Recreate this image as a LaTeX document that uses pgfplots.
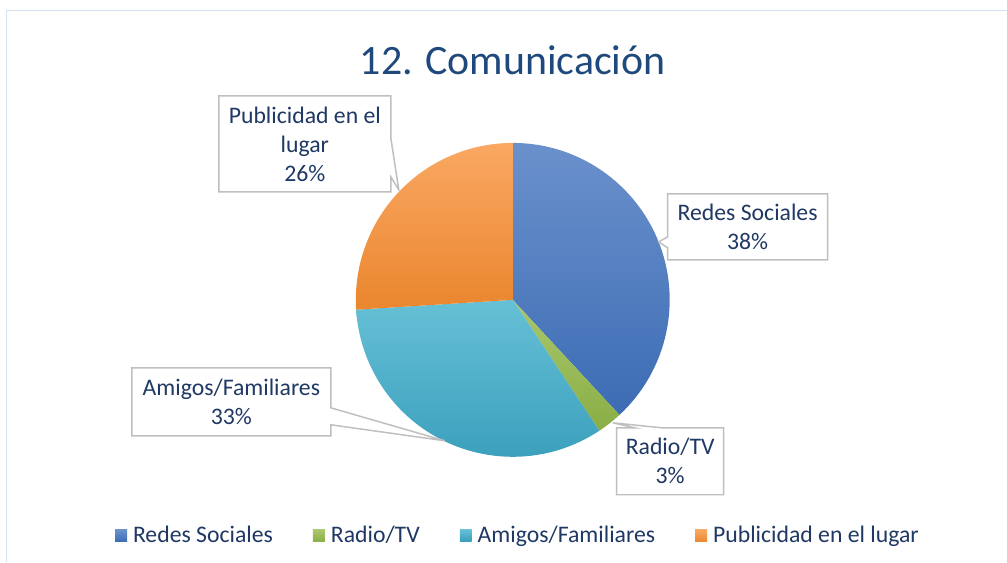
\documentclass[border=0pt]{standalone}
\usepackage{pgfplots}
\pgfplotsset{compat=1.18}
\usepackage{fontspec}
\setmainfont{Carlito}
\definecolor{titlecol}{HTML}{1F497D}
\definecolor{txtcol}{HTML}{1F3864}
\definecolor{framecol}{HTML}{D5E0F0}
\definecolor{boxcol}{HTML}{BFBFBF}
\definecolor{blueT}{HTML}{6B91CC}\definecolor{blueB}{HTML}{3C6CB4}
\definecolor{greenT}{HTML}{A9C76C}\definecolor{greenB}{HTML}{8AAE45}
\definecolor{tealT}{HTML}{66C0D6}\definecolor{tealB}{HTML}{369CBA}
\definecolor{orT}{HTML}{FAA863}\definecolor{orB}{HTML}{EA862E}
\begin{document}
\begin{tikzpicture}
% data (percent)
\def\vRedes{38.1}\def\vRadio{2.6}\def\vAmigos{33.3}\def\vPubli{26.0}
\pgfmathsetmacro\aZero{90}
\pgfmathsetmacro\aOne{\aZero-3.6*\vRedes}
\pgfmathsetmacro\aTwo{\aOne-3.6*\vRadio}
\pgfmathsetmacro\aThree{\aTwo-3.6*\vAmigos}
\pgfmathsetmacro\aFour{\aThree-3.6*\vPubli}
\def\R{117.75pt}
\begin{axis}[
  x=0.75pt, y=0.75pt,
  xmin=0, xmax=1007, ymin=0, ymax=562,
  hide axis, clip=false,
  legend style={at={(axis cs:518.5,26)}, anchor=center, draw=none, fill=none,
    font=\fontsize{17.8}{20}\selectfont, text=txtcol,
    nodes={inner sep=2pt},
    /tikz/every odd column/.append style={column sep=2.5pt},
    /tikz/every even column/.append style={column sep=28pt}},
  legend columns=4,
  legend image code/.code={\path[#1] (0pt,-4.5pt) rectangle (9pt,4.5pt);},
]
\path[fill=white] (axis cs:0,0) rectangle (axis cs:1007,562);
\draw[framecol, line width=0.75pt] (axis cs:7,0) -- (axis cs:7,551) -- (axis cs:1007,551);
\addlegendimage{top color=blueT, bottom color=blueB, draw=none}
\addlegendentry{Redes Sociales}
\addlegendimage{top color=greenT, bottom color=greenB, draw=none}
\addlegendentry{Radio/TV}
\addlegendimage{top color=tealT, bottom color=tealB, draw=none}
\addlegendentry{Amigos/Familiares}
\addlegendimage{top color=orT, bottom color=orB, draw=none}
\addlegendentry{Publicidad en el lugar}
% slices
\path[top color=blueT, bottom color=blueB] (axis cs:513,262) -- ++(\aZero:\R) arc[start angle=\aZero, end angle=\aOne, radius=\R] -- cycle;
\path[top color=greenT, bottom color=greenB] (axis cs:513,262) -- ++(\aOne:\R) arc[start angle=\aOne, end angle=\aTwo, radius=\R] -- cycle;
\path[top color=tealT, bottom color=tealB] (axis cs:513,262) -- ++(\aTwo:\R) arc[start angle=\aTwo, end angle=\aThree, radius=\R] -- cycle;
\path[top color=orT, bottom color=orB] (axis cs:513,262) -- ++(\aThree:\R) arc[start angle=\aThree, end angle=\aFour, radius=\R] -- cycle;
% title
\node[font=\fontsize{31.4}{36}\selectfont, text=titlecol] at (axis cs:513,502) {12. Comunicación};
% callouts
\draw[boxcol, line width=1.1pt, fill=white, line join=miter] (axis cs:668,368) -- (axis cs:828,368) -- (axis cs:828,302) -- (axis cs:668,302) -- (axis cs:668,314) -- (axis cs:659,320) -- (axis cs:668,325) -- cycle;
\node[align=center, font=\fontsize{17.8}{21.8}\selectfont, text=txtcol] at (axis cs:748,335) {Redes Sociales\\38\%};
\draw[boxcol, line width=1.1pt, fill=white] (axis cs:617,134) -- (axis cs:635,134) -- (axis cs:613,139) -- (axis cs:662,134) -- (axis cs:724,134) -- (axis cs:724,67) -- (axis cs:617,67) -- cycle;
\node[align=center, font=\fontsize{17.8}{21.8}\selectfont, text=txtcol] at (axis cs:670.5,100.5) {Radio/TV\\3\%};
\draw[boxcol, line width=1.1pt, fill=white] (axis cs:132,194) -- (axis cs:331,194) -- (axis cs:331,154) -- (axis cs:445,121) -- (axis cs:331,137) -- (axis cs:331,126) -- (axis cs:132,126) -- cycle;
\node[align=center, font=\fontsize{17.8}{21.8}\selectfont, text=txtcol] at (axis cs:231.5,160) {Amigos/Familiares\\33\%};
\draw[boxcol, line width=1.1pt, fill=white] (axis cs:219,466) -- (axis cs:391,466) -- (axis cs:391,424) -- (axis cs:399,372) -- (axis cs:391,385) -- (axis cs:391,370) -- (axis cs:219,370) -- cycle;
\node[align=center, font=\fontsize{17.8}{21.8}\selectfont, text=txtcol] at (axis cs:305,418) {Publicidad en el\\lugar\\26\%};
\end{axis}
\end{tikzpicture}
\end{document}
